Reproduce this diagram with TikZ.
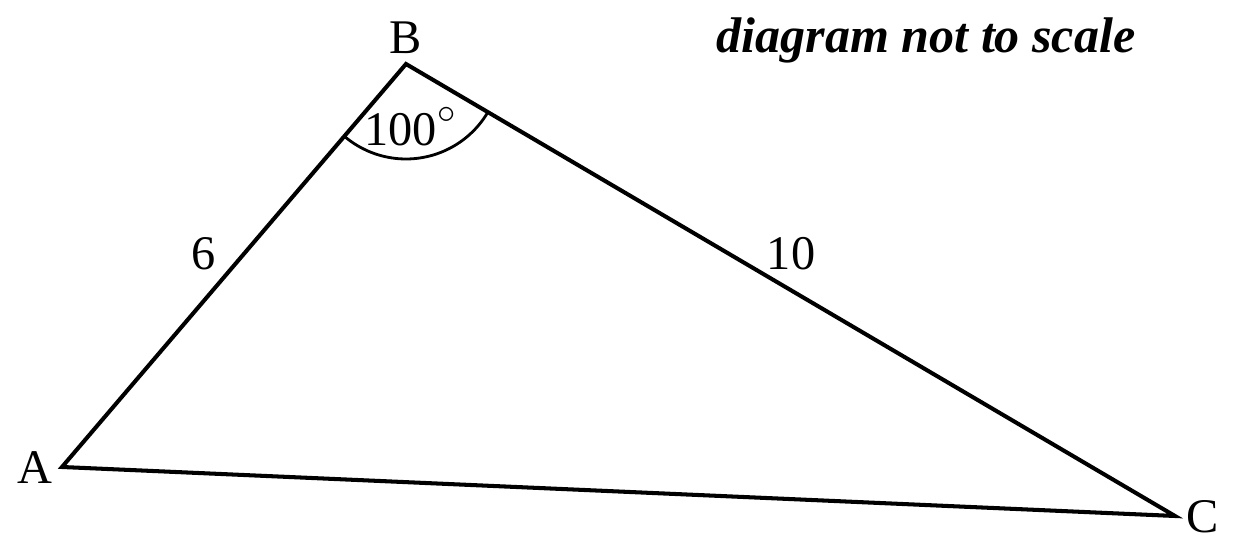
\documentclass[tikz,border=0pt]{standalone}
\usepackage{fontspec}
\setmainfont{Liberation Serif}
\usetikzlibrary{angles}
\begin{document}
\begin{tikzpicture}
  \useasboundingbox (0,0) rectangle (24.74,11.06);
  \coordinate (a) at (1.24,1.72);
  \coordinate (b) at (8.12,9.78);
  \coordinate (c) at (23.5,0.74);

  \draw[line width=2.3pt, line join=miter] (a) -- (b) -- (c) -- cycle;
  \pic[draw, line width=1.6pt, angle radius=1.9cm] {angle = a--b--c};

  \begin{scope}[every node/.style={font=\fontsize{27.5}{30}\selectfont, inner sep=0pt}]
    \node (la) at (0.7,1.7) {A};
    \node (lb) at (8.12,10.3) {B};
    \node (lc) at (24.06,0.72) {C};
    \node (lab) at (4.08,5.98) {6};
    \node (lbc) at (15.82,5.98) {10};
    \node (lang) at (8.2,8.52) {100\raisebox{0.45em}{$\scriptstyle\circ$}};
    \node[font=\fontsize{28.5}{32}\selectfont] (note) at (18.52,10.26) {\bfseries\itshape diagram not to scale};
  \end{scope}
\end{tikzpicture}
\end{document}
